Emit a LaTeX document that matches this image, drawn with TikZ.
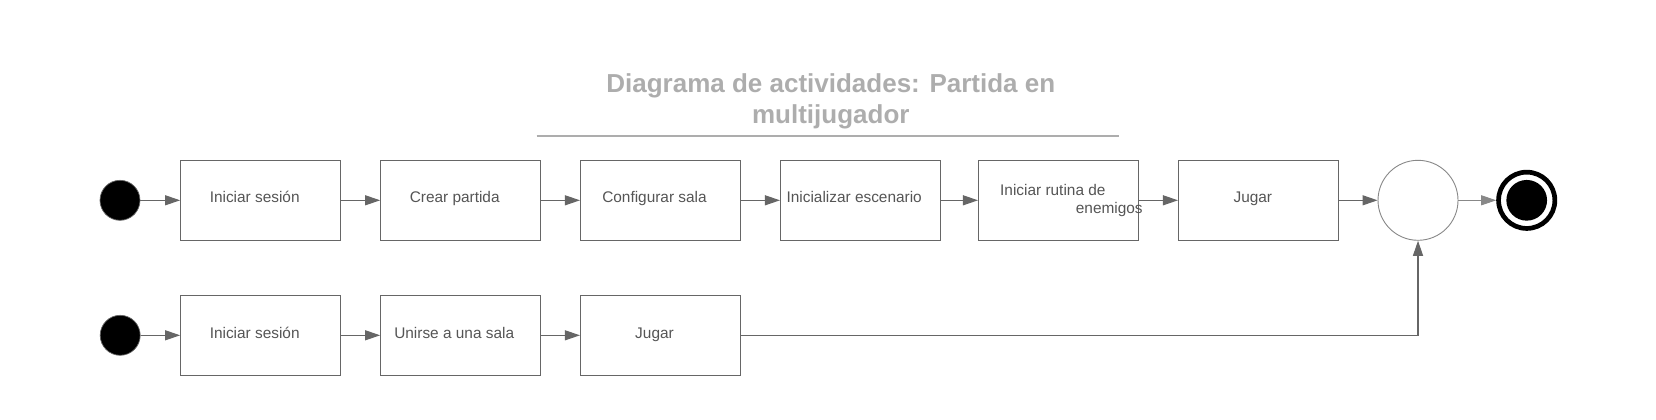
\documentclass[tikz,border=0pt]{standalone}
\usepackage{fontspec}
\setmainfont{Liberation Sans}
\usetikzlibrary{arrows.meta}
\definecolor{linegray}{HTML}{666666}
\definecolor{lightline}{HTML}{888888}
\definecolor{textgray}{HTML}{555555}
\definecolor{titlegray}{HTML}{ADADAD}
\tikzset{
  act/.style={draw=linegray, line width=1.1pt, minimum width=160pt, minimum height=80pt, inner sep=0pt, fill=white},
  lbl/.style={text=textgray, font=\fontsize{15.4}{18}\selectfont, inner sep=0pt, anchor=base},
  startnode/.style={circle, fill=black, draw=linegray, line width=0.7pt, minimum size=40pt, inner sep=0pt},
  joinnode/.style={circle, draw=lightline, line width=0.9pt, minimum size=80pt, inner sep=0pt},
  flow/.style={draw=linegray, line width=1.1pt, -{Triangle[length=15pt, width=10pt]}},
  lightflow/.style={draw=lightline, line width=0.9pt, -{Triangle[length=15pt, width=10pt]}},
}
\begin{document}
\begin{tikzpicture}[x=1pt, y=-1pt]
\useasboundingbox (0,0) rectangle (1656,420);
% title
\node[text=titlegray, font=\bfseries\fontsize{26}{30.6}\selectfont, align=center, anchor=base, inner sep=0pt] (title) at (830.8,123.3) {Diagrama de actividades: Partida en\\multijugador};
\coordinate (ul) at (536.7,136);
\coordinate (ur) at (1119.3,136);
\draw[titlegray, line width=2pt] (ul) -- (ur);
% row 1
\node[startnode] (s1) at (120,200.3) {};
\node[act] (a1) at (260.7,200.3) {};
\node[act] (a2) at (460.7,200.3) {};
\node[act] (a3) at (660.5,200.3) {};
\node[act] (a4) at (860.5,200.3) {};
\node[act] (a5) at (1058.5,200.3) {};
\node[act] (a6) at (1258.5,200.3) {};
\node[joinnode] (j) at (1418,200.3) {};
\node[circle, draw=black, line width=4.7pt, minimum size=56.3pt, inner sep=0pt] (e) at (1526.7,200.3) {};
\node[circle, fill=black, minimum size=40.7pt, inner sep=0pt] (ein) at (1526.7,200.3) {};
\node[lbl] (t1) at (254.7,202.7) {Iniciar sesión};
\node[lbl] (t2) at (454.7,202.7) {Crear partida};
\node[lbl] (t3) at (654.5,202.7) {Configurar sala};
\node[lbl] (t4) at (854.2,202.7) {Inicializar escenario};
\node[lbl, anchor=base west] (t5a) at (1000,195.7) {Iniciar rutina de};
\node[lbl, anchor=base west] (t5b) at (1075.7,213) {enemigos};
\node[lbl] (t6) at (1252.8,202.7) {Jugar};
\draw[flow] (s1) -- (a1);
\draw[flow] (a1) -- (a2);
\draw[flow] (a2) -- (a3);
\draw[flow] (a3) -- (a4);
\draw[flow] (a4) -- (a5);
\draw[flow] (a5) -- (a6);
\draw[flow] (a6) -- (j);
\draw[lightflow] (j) -- (e);
% row 2
\node[startnode] (s2) at (120.2,335.3) {};
\node[act] (b1) at (260.7,335.3) {};
\node[act] (b2) at (460.7,335.3) {};
\node[act] (b3) at (660.5,335.3) {};
\node[lbl] (u1) at (254.7,338) {Iniciar sesión};
\node[lbl] (u2) at (454.2,338) {Unirse a una sala};
\node[lbl] (u3) at (654.5,338) {Jugar};
\draw[flow] (s2) -- (b1);
\draw[flow] (b1) -- (b2);
\draw[flow] (b2) -- (b3);
\draw[flow] (b3.east) -| (j.south);
\end{tikzpicture}
\end{document}
